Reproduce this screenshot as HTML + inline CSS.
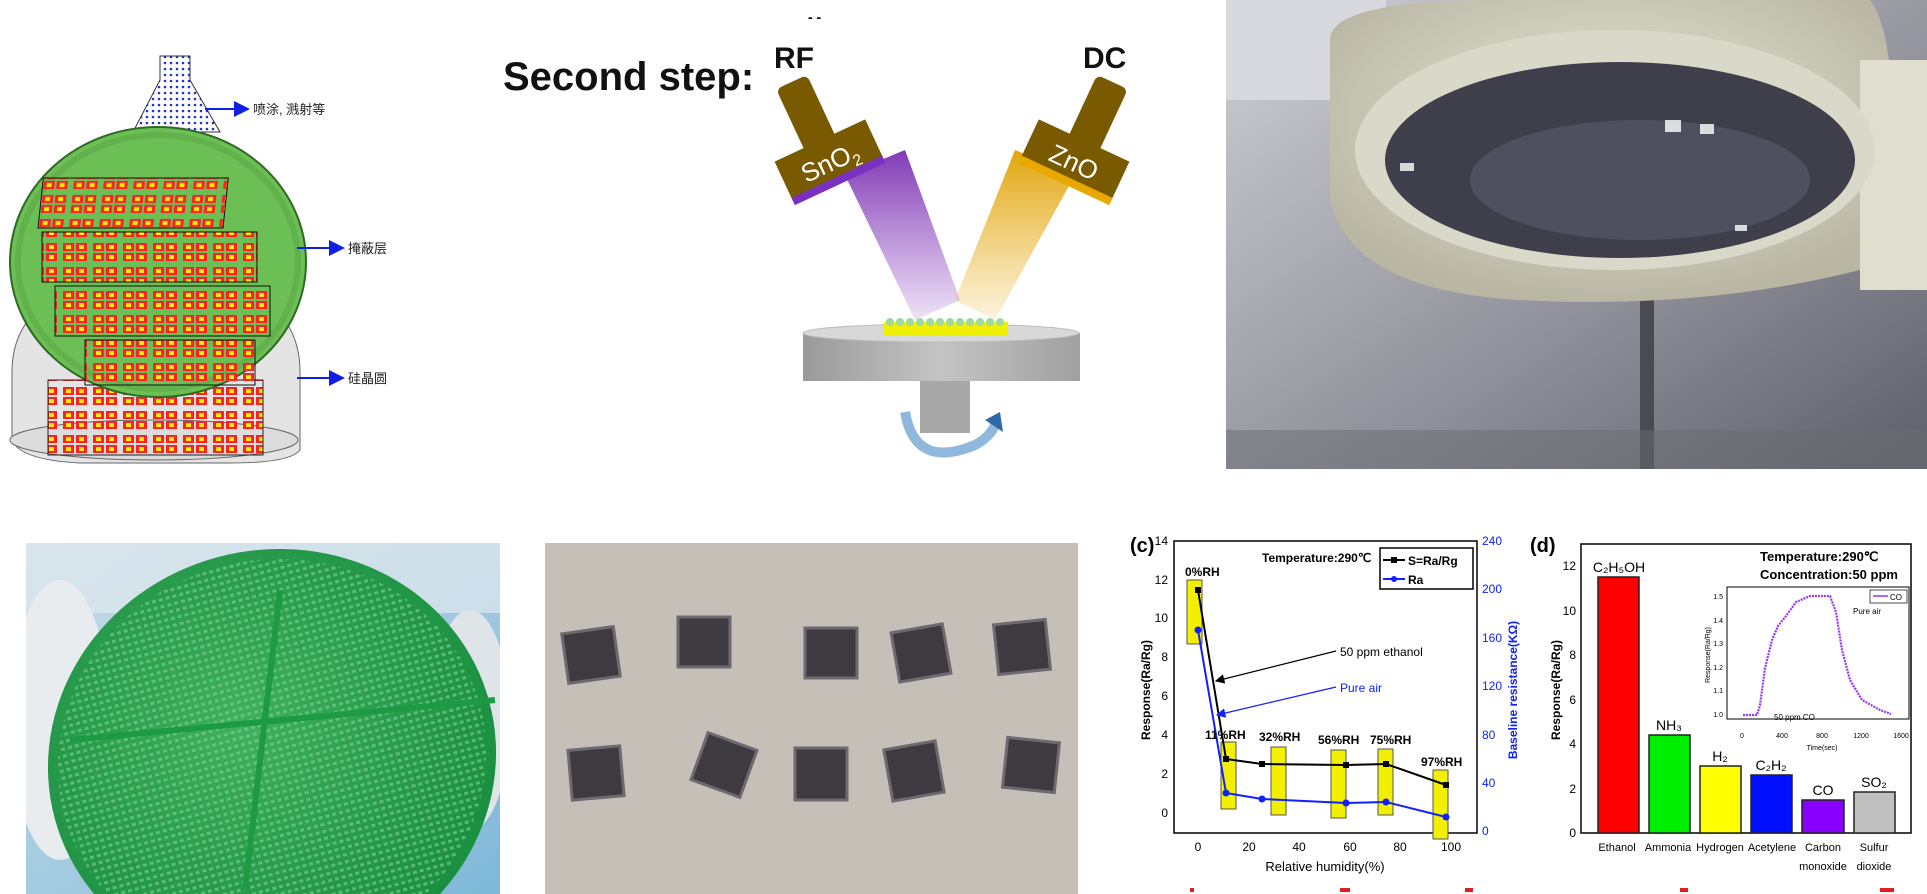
<!DOCTYPE html>
<html><head><meta charset="utf-8"><style>
html,body{margin:0;padding:0;background:#fff;width:1927px;height:894px;overflow:hidden;}
svg{display:block;font-family:"Liberation Sans","Noto Sans CJK SC",sans-serif;}
</style></head><body>
<svg width="1927" height="894" viewBox="0 0 1927 894" xmlns="http://www.w3.org/2000/svg">
<defs>
<clipPath id="c1"><rect x="26" y="543" width="474" height="351"/></clipPath>
<clipPath id="c2"><rect x="545" y="543" width="533" height="351"/></clipPath>
<pattern id="dots" width="6" height="6" patternUnits="userSpaceOnUse"><rect width="6" height="6" fill="#fff"/><circle cx="3" cy="3" r="1.3" fill="#2233cc"/></pattern>
<pattern id="cells" width="30" height="24" patternUnits="userSpaceOnUse"><rect width="30" height="24" fill="none"/><rect x="3" y="3" width="11" height="8" fill="#ff2020"/><rect x="16" y="3" width="11" height="8" fill="#ff2020"/><rect x="3" y="13" width="11" height="8" fill="#ff2020"/><rect x="16" y="13" width="11" height="8" fill="#ff2020"/><rect x="6" y="5" width="5" height="4" fill="#ffee00"/><rect x="19" y="15" width="5" height="4" fill="#ffee00"/><rect x="6" y="15" width="5" height="4" fill="#ffee00"/><rect x="19" y="5" width="5" height="4" fill="#ffee00"/></pattern>
<linearGradient id="purp" x1="0" y1="0" x2="0" y2="1"><stop offset="0" stop-color="#7a2fb0" stop-opacity="0.95"/><stop offset="1" stop-color="#8a3fc0" stop-opacity="0.15"/></linearGradient>
<linearGradient id="gold" x1="0" y1="0" x2="0" y2="1"><stop offset="0" stop-color="#e0a000" stop-opacity="0.95"/><stop offset="1" stop-color="#e8b020" stop-opacity="0.15"/></linearGradient>
<linearGradient id="stage" x1="0" y1="0" x2="1" y2="0"><stop offset="0" stop-color="#9a9a9a"/><stop offset="0.5" stop-color="#c4c4c4"/><stop offset="1" stop-color="#a0a0a0"/></linearGradient>
<linearGradient id="room" x1="0" y1="0" x2="1" y2="1"><stop offset="0" stop-color="#cfd0d6"/><stop offset="0.6" stop-color="#8e8f98"/><stop offset="1" stop-color="#5e5f68"/></linearGradient>
<radialGradient id="hood" cx="0.5" cy="0.4" r="0.6"><stop offset="0" stop-color="#e8e6d6"/><stop offset="1" stop-color="#b9b7a4"/></radialGradient>
<linearGradient id="bgblue" x1="0" y1="0" x2="1" y2="1"><stop offset="0" stop-color="#c9dde8"/><stop offset="1" stop-color="#7fb8d8"/></linearGradient>
<radialGradient id="wgreen" cx="0.45" cy="0.4" r="0.7"><stop offset="0" stop-color="#3fb060"/><stop offset="1" stop-color="#148a3a"/></radialGradient>
<pattern id="wdots" width="7" height="7" patternUnits="userSpaceOnUse"><rect x="1" y="1" width="4" height="3" fill="#7fd090" opacity="0.6"/></pattern>
<marker id="ab" markerWidth="8" markerHeight="8" refX="7" refY="4" orient="auto"><path d="M0,0 L8,4 L0,8 z" fill="#1020e0"/></marker>
<marker id="ak" markerWidth="8" markerHeight="8" refX="7" refY="4" orient="auto"><path d="M0,0 L8,4 L0,8 z" fill="#000"/></marker>
<marker id="abl" markerWidth="8" markerHeight="8" refX="7" refY="4" orient="auto"><path d="M0,0 L8,4 L0,8 z" fill="#1020ff"/></marker>
</defs>

<path d="M160,56 L190,56 L190,80 L220,132 L133,132 L160,80 Z" fill="url(#dots)" stroke="#333"/>
<line x1="205" y1="109" x2="248" y2="109" stroke="#1020e0" stroke-width="2" marker-end="url(#ab)"/>
<text x="253" y="114" font-size="13" fill="#222">喷涂, 溅射等</text>
<path d="M12,372 Q12,280 160,270 Q300,280 300,372 L300,450 Q290,463 230,463 L80,463 Q20,460 12,440 Z" fill="#e4e4e4" stroke="#666"/>
<ellipse cx="154" cy="440" rx="144" ry="20" fill="#dcdcdc" stroke="#666"/>
<rect x="48" y="380" width="215" height="75" fill="url(#cells)" stroke="#222"/>
<ellipse cx="158" cy="262" rx="148" ry="135" fill="#6cbf54" stroke="#2f6a25" stroke-width="2"/>
<ellipse cx="158" cy="262" rx="140" ry="127" fill="none" stroke="#5aa444" stroke-width="6" opacity="0.5"/>
<rect x="62" y="178" width="185" height="50" fill="url(#cells)" stroke="#111" transform="skewX(-6)"/>
<rect x="42" y="232" width="215" height="50" fill="url(#cells)" stroke="#111"/>
<rect x="55" y="286" width="215" height="50" fill="url(#cells)" stroke="#111"/>
<rect x="85" y="340" width="170" height="45" fill="url(#cells)" stroke="#111"/>
<line x1="297" y1="248" x2="343" y2="248" stroke="#1020e0" stroke-width="2" marker-end="url(#ab)"/>
<text x="348" y="253" font-size="13" fill="#222">掩蔽层</text>
<line x1="297" y1="378" x2="343" y2="378" stroke="#1020e0" stroke-width="2" marker-end="url(#ab)"/>
<text x="348" y="383" font-size="13" fill="#222">硅晶圆</text>

<text x="808" y="22" font-size="14" font-weight="bold">- -</text>
<text x="503" y="90" font-size="40" font-weight="bold" fill="#111">Second step:</text>
<text x="774" y="68" font-size="30" font-weight="bold" fill="#111">RF</text>
<text x="1083" y="68" font-size="30" font-weight="bold" fill="#111">DC</text>
<polygon points="845,175 905,150 960,300 915,320" fill="url(#purp)"/>
<polygon points="1015,150 1075,175 995,320 955,300" fill="url(#gold)"/>
<g transform="translate(822,145) rotate(-25)">
<rect x="-18" y="-70" width="34" height="70" rx="6" fill="#7a5a00"/>
<rect x="-50" y="-5" width="100" height="44" fill="#7a5a00"/>
<rect x="-50" y="35" width="100" height="8" fill="#7a30c0"/>
<text x="0" y="28" font-size="26" fill="#fff" text-anchor="middle">SnO<tspan font-size="16" dy="6">2</tspan></text>
</g>
<g transform="translate(1082,145) rotate(25)">
<rect x="-16" y="-70" width="34" height="70" rx="6" fill="#7a5a00"/>
<rect x="-50" y="-5" width="100" height="44" fill="#7a5a00"/>
<rect x="-50" y="35" width="100" height="8" fill="#e8a800"/>
<text x="0" y="28" font-size="26" fill="#fff" text-anchor="middle">ZnO</text>
</g>
<rect x="920" y="378" width="50" height="55" fill="#a8a8a8"/>
<rect x="803" y="333" width="277" height="48" fill="url(#stage)"/>
<ellipse cx="941" cy="333" rx="138" ry="9" fill="#d8d8d8" stroke="#bbb"/>
<rect x="884" y="322" width="124" height="14" fill="#eef000"/>
<g fill="#9fd8a0"><circle cx="890" cy="322" r="4"/><circle cx="900" cy="322" r="4"/><circle cx="910" cy="322" r="4"/><circle cx="920" cy="322" r="4"/><circle cx="930" cy="322" r="4"/><circle cx="940" cy="322" r="4"/><circle cx="950" cy="322" r="4"/><circle cx="960" cy="322" r="4"/><circle cx="970" cy="322" r="4"/><circle cx="980" cy="322" r="4"/><circle cx="990" cy="322" r="4"/><circle cx="1000" cy="322" r="4"/></g>
<path d="M905,412 Q915,470 975,445 Q990,437 995,425" fill="none" stroke="#8fb8dc" stroke-width="10"/>
<polygon points="985,420 1000,412 1003,432" fill="#2f6aa8"/>

<rect x="1226" y="0" width="701" height="469" fill="url(#room)"/>
<rect x="1226" y="0" width="160" height="100" fill="#d8d9de"/>
<rect x="1640" y="300" width="14" height="169" fill="#4a4a50"/>
<path d="M1330,40 Q1330,0 1500,0 L1870,0 Q1900,40 1890,200 L1860,270 Q1700,310 1520,300 Q1350,290 1330,200 Z" fill="url(#hood)"/>
<rect x="1860" y="60" width="67" height="230" fill="#e0decf"/>
<ellipse cx="1615" cy="150" rx="260" ry="120" fill="#dad8c8"/>
<ellipse cx="1620" cy="160" rx="235" ry="98" fill="#3e3f4b"/>
<ellipse cx="1640" cy="180" rx="170" ry="60" fill="#56586a" opacity="0.7"/>
<g fill="#fff" opacity="0.8"><rect x="1400" y="163" width="14" height="8"/><rect x="1665" y="120" width="16" height="12"/><rect x="1700" y="124" width="14" height="10"/><rect x="1735" y="225" width="12" height="6"/></g>
<rect x="1226" y="430" width="701" height="39" fill="#6a6b72" opacity="0.5"/>

<g clip-path="url(#c1)">
<rect x="26" y="543" width="474" height="351" fill="url(#bgblue)"/>
<rect x="26" y="543" width="474" height="70" fill="#dfe8ee" opacity="0.7"/>
<ellipse cx="60" cy="720" rx="50" ry="140" fill="#e8ecef"/>
<ellipse cx="470" cy="720" rx="40" ry="110" fill="#dfe4e8"/>
<ellipse cx="272" cy="760" rx="225" ry="210" fill="url(#wgreen)" transform="rotate(-15 272 760)"/>
<ellipse cx="272" cy="760" rx="215" ry="200" fill="url(#wdots)" transform="rotate(-15 272 760)"/>
<line x1="280" y1="590" x2="245" y2="890" stroke="#1c9a44" stroke-width="6"/>
<line x1="70" y1="740" x2="495" y2="700" stroke="#1c9a44" stroke-width="6"/>
</g>

<g clip-path="url(#c2)">
<rect x="545" y="543" width="533" height="351" fill="#c6bfb8"/>
<g fill="#3d3a40" stroke="#6c6a70" stroke-width="3">
<rect x="565" y="630" width="52" height="50" transform="rotate(-8 591 655)"/>
<rect x="678" y="617" width="52" height="50"/>
<rect x="805" y="628" width="52" height="50"/>
<rect x="895" y="628" width="52" height="50" transform="rotate(-10 921 653)"/>
<rect x="996" y="622" width="52" height="50" transform="rotate(-6 1022 647)"/>
<rect x="570" y="748" width="52" height="50" transform="rotate(-5 596 773)"/>
<rect x="698" y="740" width="52" height="50" transform="rotate(20 724 765)"/>
<rect x="795" y="748" width="52" height="52"/>
<rect x="888" y="745" width="52" height="52" transform="rotate(-10 914 771)"/>
<rect x="1005" y="740" width="52" height="50" transform="rotate(6 1031 765)"/>
</g>
</g>

<g font-family="Liberation Sans Narrow, Liberation Sans, sans-serif">
<text x="1130" y="552" font-size="20" font-weight="bold">(c)</text>
<rect x="1174" y="541" width="303" height="292" fill="none" stroke="#000" stroke-width="1.5"/>
<g font-size="12" text-anchor="end">
<text x="1168" y="545">14</text><text x="1168" y="584">12</text><text x="1168" y="622">10</text><text x="1168" y="661">8</text><text x="1168" y="700">6</text><text x="1168" y="739">4</text><text x="1168" y="778">2</text><text x="1168" y="817">0</text>
</g>
<g font-size="12" fill="#1020ff">
<text x="1482" y="545">240</text><text x="1482" y="593">200</text><text x="1482" y="642">160</text><text x="1482" y="690">120</text><text x="1482" y="739">80</text><text x="1482" y="787">40</text><text x="1482" y="835">0</text>
</g>
<g font-size="12" text-anchor="middle"><text x="1198" y="851">0</text><text x="1249" y="851">20</text><text x="1299" y="851">40</text><text x="1350" y="851">60</text><text x="1400" y="851">80</text><text x="1451" y="851">100</text></g>
<text x="1325" y="871" font-size="13" text-anchor="middle">Relative humidity(%)</text>
<text transform="translate(1150,690) rotate(-90)" font-size="12" font-weight="bold" text-anchor="middle">Response(Ra/Rg)</text>
<text transform="translate(1517,690) rotate(-90)" font-size="12" font-weight="bold" fill="#1020ff" text-anchor="middle">Baseline resistance(KΩ)</text>
<g fill="#f2f000" stroke="#555"><rect x="1187" y="580" width="15" height="64"/><rect x="1221" y="742" width="15" height="67"/><rect x="1271" y="747" width="15" height="68"/><rect x="1331" y="750" width="15" height="68"/><rect x="1378" y="749" width="15" height="66"/><rect x="1433" y="770" width="15" height="69"/></g>
<polyline points="1198,590 1226,759 1262,764 1346,765 1386,764 1446,785" fill="none" stroke="#000" stroke-width="2"/>
<g fill="#000"><rect x="1195" y="587" width="6" height="6"/><rect x="1223" y="756" width="6" height="6"/><rect x="1259" y="761" width="6" height="6"/><rect x="1343" y="762" width="6" height="6"/><rect x="1383" y="761" width="6" height="6"/><rect x="1443" y="782" width="6" height="6"/></g>
<polyline points="1198,630 1226,793 1262,799 1346,803 1386,802 1446,817" fill="none" stroke="#1020ff" stroke-width="2"/>
<g fill="#1020ff"><circle cx="1198" cy="630" r="3.5"/><circle cx="1226" cy="793" r="3.5"/><circle cx="1262" cy="799" r="3.5"/><circle cx="1346" cy="803" r="3.5"/><circle cx="1386" cy="802" r="3.5"/><circle cx="1446" cy="817" r="3.5"/></g>
<g font-size="12" font-weight="bold"><text x="1185" y="576">0%RH</text><text x="1205" y="739">11%RH</text><text x="1259" y="741">32%RH</text><text x="1318" y="744">56%RH</text><text x="1370" y="744">75%RH</text><text x="1421" y="766">97%RH</text></g>
<text x="1262" y="562" font-size="12" font-weight="bold">Temperature:290℃</text>
<rect x="1380" y="548" width="93" height="41" fill="#fff" stroke="#000" stroke-width="1.5"/>
<line x1="1383" y1="560" x2="1405" y2="560" stroke="#000" stroke-width="2"/><rect x="1391" y="557" width="6" height="6"/>
<text x="1408" y="565" font-size="12" font-weight="bold">S=Ra/Rg</text>
<line x1="1383" y1="579" x2="1405" y2="579" stroke="#1020ff" stroke-width="2"/><circle cx="1394" cy="579" r="3" fill="#1020ff"/>
<text x="1408" y="584" font-size="12" font-weight="bold">Ra</text>
<line x1="1336" y1="651" x2="1216" y2="681" stroke="#000" stroke-width="1.2" marker-end="url(#ak)"/>
<text x="1340" y="656" font-size="12">50 ppm ethanol</text>
<line x1="1336" y1="687" x2="1217" y2="715" stroke="#1020ff" stroke-width="1.2" marker-end="url(#abl)"/>
<text x="1340" y="692" font-size="12" fill="#1020ff">Pure air</text>

<text x="1530" y="552" font-size="20" font-weight="bold">(d)</text>
<rect x="1581" y="544" width="330" height="289" fill="none" stroke="#000" stroke-width="1.5"/>
<g font-size="12" text-anchor="end"><text x="1576" y="570">12</text><text x="1576" y="615">10</text><text x="1576" y="659">8</text><text x="1576" y="704">6</text><text x="1576" y="748">4</text><text x="1576" y="793">2</text><text x="1576" y="837">0</text></g>
<text transform="translate(1560,690) rotate(-90)" font-size="12" font-weight="bold" text-anchor="middle">Response(Ra/Rg)</text>
<g stroke="#222" stroke-width="1.5">
<rect x="1598" y="577" width="41" height="256" fill="#ff0000"/>
<rect x="1649" y="735" width="41" height="98" fill="#00ee00"/>
<rect x="1700" y="766" width="41" height="67" fill="#ffff00"/>
<rect x="1751" y="775" width="41" height="58" fill="#0010ff"/>
<rect x="1802" y="800" width="42" height="33" fill="#8a00ff"/>
<rect x="1854" y="792" width="41" height="41" fill="#c0c0c0"/>
</g>
<g font-size="14" text-anchor="middle"><text x="1619" y="572">C₂H₅OH</text><text x="1669" y="730">NH₃</text><text x="1720" y="761">H₂</text><text x="1771" y="770">C₂H₂</text><text x="1823" y="795">CO</text><text x="1874" y="787">SO₂</text></g>
<g font-size="11" text-anchor="middle"><text x="1617" y="851">Ethanol</text><text x="1668" y="851">Ammonia</text><text x="1720" y="851">Hydrogen</text><text x="1772" y="851">Acetylene</text><text x="1823" y="851">Carbon</text><text x="1874" y="851">Sulfur</text><text x="1823" y="870">monoxide</text><text x="1874" y="870">dioxide</text></g>
<text x="1760" y="561" font-size="13" font-weight="bold">Temperature:290℃</text>
<text x="1760" y="579" font-size="13" font-weight="bold">Concentration:50 ppm</text>
<rect x="1727" y="587" width="182" height="132" fill="#fff" stroke="#000"/>
<g font-size="7" text-anchor="end"><text x="1723" y="599">1.5</text><text x="1723" y="623">1.4</text><text x="1723" y="646">1.3</text><text x="1723" y="670">1.2</text><text x="1723" y="693">1.1</text><text x="1723" y="717">1.0</text></g>
<g font-size="7" text-anchor="middle"><text x="1742" y="738">0</text><text x="1782" y="738">400</text><text x="1822" y="738">800</text><text x="1861" y="738">1200</text><text x="1901" y="738">1600</text></g>
<text x="1822" y="750" font-size="7" text-anchor="middle">Time(sec)</text>
<text transform="translate(1710,655) rotate(-90)" font-size="7" text-anchor="middle">Response(Ra/Rg)</text>
<path d="M1743,715 L1757,715 L1760,705 L1765,668 L1772,640 L1778,626 L1786,616 L1796,602 L1810,596 L1830,596 L1836,612 L1842,650 L1850,680 L1862,700 L1880,710 L1891,714" fill="none" stroke="#9933ff" stroke-width="2.2" stroke-dasharray="2,1"/>
<rect x="1870" y="590" width="37" height="13" fill="#fff" stroke="#000" stroke-width="0.7"/>
<line x1="1873" y1="596" x2="1888" y2="596" stroke="#9933ff" stroke-width="1.5"/>
<text x="1890" y="600" font-size="8">CO</text>
<text x="1853" y="614" font-size="8">Pure air</text>
<text x="1774" y="720" font-size="8">50 ppm CO</text>
</g>
<g fill="#e02020"><rect x="1190" y="888" width="4" height="4"/><rect x="1340" y="888" width="10" height="4"/><rect x="1465" y="888" width="8" height="4"/><rect x="1680" y="888" width="8" height="4"/><rect x="1880" y="888" width="14" height="4"/></g>
</svg>
</body></html>
